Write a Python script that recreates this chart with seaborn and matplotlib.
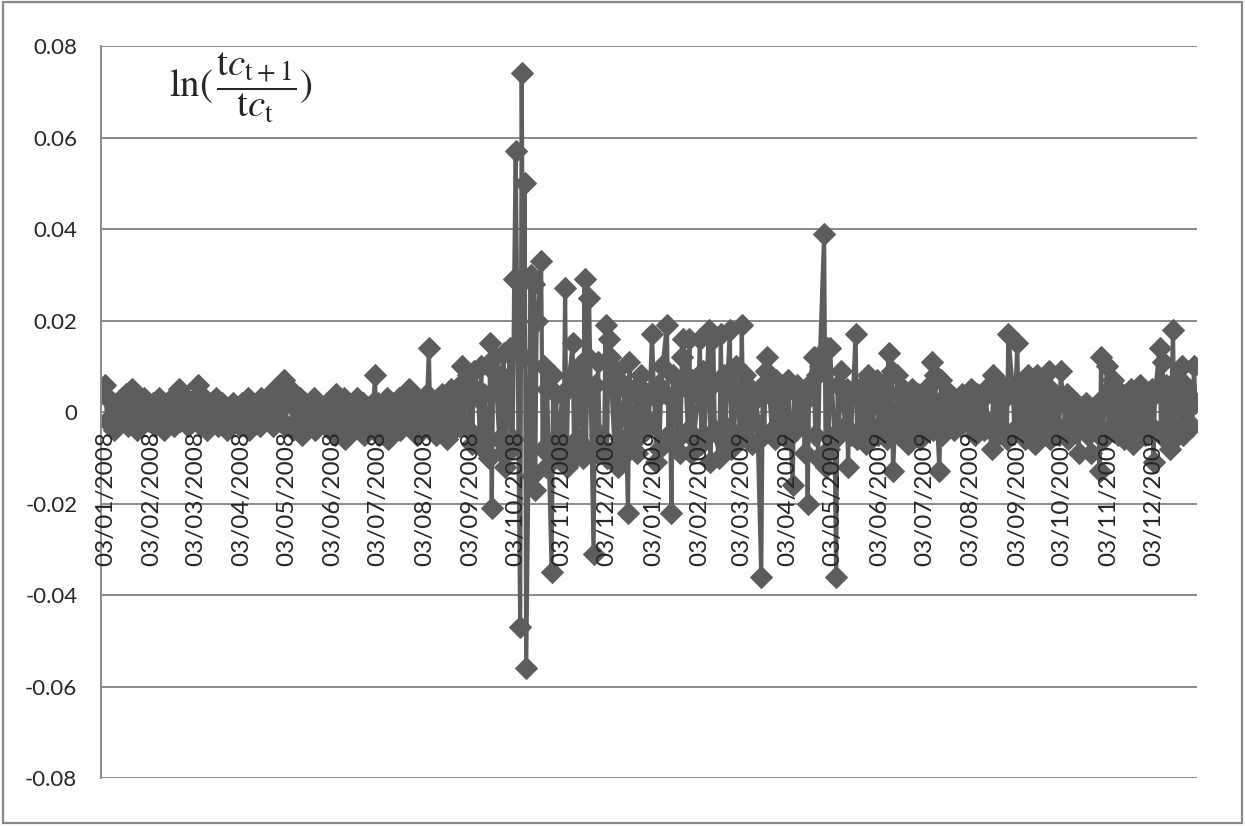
import matplotlib
matplotlib.use("Agg")
import matplotlib.pyplot as plt
import matplotlib.dates as mdates
from matplotlib.patches import Rectangle
import numpy as np
import pandas as pd
import seaborn as sns

# ln(tc_t+1 / tc_t) per trading day, in thousandths, one list per quarter
r08_q1 = [
    4, 6, -2, -1, 2, -4, 1, -3, 3, -2, 0, 4, -3, 5, -1, 2, -4, 1, -2, 3, -1, 0,
    -2, 2, -3, 1, -1, 3, -4, 0, 2, -2, 1, -3, 4, -1, 5, -2, 0, 3, -3, 1, 2,
    3, -2, 6, 4, -3, 1, -4, 2, -1, 0, 3, -3, 1, -2, 2, -4, 0, 1, -1, 2, -2,
]
r08_q2 = [
    1, -3, 2, -1, 3, -4, 0, 2, -2, 1, -3, 3, 0, -2, 2, -1, 4, -3, 5, 1, 6, -2,
    7, -3, 5, 2, -4, 1, -2, 3, -5, 0, 2, -3, 1, -1, 3, -4, 2, 0, -2, 1, -3, 2,
    -3, 2, -5, 4, 1, -2, 3, -6, 0, 2, -4, 1, -1, 3, -3, 2, -5, 0, 1, -2, 2,
]
r08_q3 = [
    8, -4, 2, -5, 1, -2, 3, -6, 0, 2, -3, 1, 3, -4, 2, -1, 0, 5, -3, 1, -5, 2, -2,
    2, -3, 4, 14, -4, 1, -5, 3, 0, -2, 4, -6, 2, -1, 5, -4, 3, -3, 6, 10, -2,
    8, -4, 6, -7, 9, 3, -5, 10, -8, 4, -10, 15, -21, 9, 12, -6, 8, -9, 13, -12, 14, -8,
]
r08_q4 = [
    -6, 29, 57, -47, 74, 12, 50, -56, 30, -14, 28, -17, 20, 33, -8, 10, -12, 5, -35, 8, -6, 4, -10,
    4, -8, 27, -12, 5, 15, -10, 8, -6, 10, -10, 29, -8, 12, 25, -31, 6, -9, 11, -5,
    -8, 19, -10, 16, 12, -8, 9, -12, 7, -6, 5, -9, -22, 11, -7, 4, -9, 6, -5, 8, -4, 3, -2,
]
r09_q1 = [
    17, -11, 6, -8, 4, 10, 19, -5, 3, -22, 8, -6, 5, -9, 12, 16, -4, 16, -9, 7, -6,
    4, 16, -7, 9, -5, 18, -11, 6, 16, -4, -10, 17, -6, 8, -3, 18, -8, 5, -5, 10,
    -6, 19, -4, 8, -3, 5, -7, 4, -2, 3, -36, 6, -5, 9, 12, -4, 3, -6, 7, -3, 5, -2,
]
r09_q2 = [
    4, -6, 7, -16, 5, -4, 6, -3, 2, -9, 4, -20, 6, 12, -5, 8, -10, 10, 39, -12, 14, -8,
    14, -6, -36, 6, -4, 9, -3, 5, -12, 4, -5, 17, -6, 5, -4, 3, -7, 8, -5, 6, -3,
    7, -5, 4, -3, 6, -6, 13, -4, 9, -13, 8, -5, 4, -3, 5, -7, 3, -4, 5, -2, 4, -6,
]
r09_q3 = [
    3, -5, 2, -3, 6, 11, -4, 8, -13, 7, -5, 3, -3, 4, -2, 3, -4, 2, -3, 4, -2, 3, -1,
    5, -3, 2, -5, 4, -2, 3, -4, 5, -2, -8, 8, -3, 4, -5, 6, -4, 3, -6, 17, 5,
    -4, 6, 15, -3, 5, -6, 4, 8, -3, 5, -7, 8, -4, 3, -5, 6, -2, 9, -6, 4, -3, 2,
]
r09_q4 = [
    -5, 9, -3, 4, -6, 3, -2, 2, -4, -9, 1, -3, 2, -5, -1, -9, 0, -4, 2, -13, 12, -6,
    10, -4, 5, -3, 7, -5, 3, -2, 4, -6, 2, -3, 5, -7, 3, -4, 6, -2, 3, -5, 4,
    -3, 5, -11, 4, 14, -5, 11, -3, 6, -8, 4, 18, -6, 7, -4, 10, -5, 6, -2, 3, -3, 10, 2,
]
quarters = [
    ("2008-01-02", r08_q1), ("2008-04-01", r08_q2), ("2008-07-01", r08_q3), ("2008-10-01", r08_q4),
    ("2009-01-02", r09_q1), ("2009-04-01", r09_q2), ("2009-07-01", r09_q3), ("2009-10-01", r09_q4),
]

y_ticks = [-0.08, -0.06, -0.04, -0.02, 0, 0.02, 0.04, 0.06, 0.08]
tick_dates = pd.date_range("2008-01-01", "2009-12-01", freq="MS") + pd.Timedelta(days=2)

frames = []
for start, vals in quarters:
    frames.append(pd.DataFrame({
        "date": pd.bdate_range(start, periods=len(vals)),
        "value": np.array(vals) / 1000.0,
    }))
df = pd.concat(frames, ignore_index=True)

sns.set_style("white")
plt.rcParams["font.family"] = ["Lato", "DejaVu Sans"]
plt.rcParams["mathtext.fontset"] = "stix"

grey = "#8a8a8a"
series = "#5d5d5d"

fig = plt.figure(figsize=(12.45, 8.26), dpi=100)
ax = fig.add_axes([0.0811, 0.0581, 0.8803, 0.8862])

for v in y_ticks:
    ax.axhline(v, color=grey, lw=1.4, zorder=0.5)

sns.lineplot(data=df, x="date", y="value", ax=ax, estimator=None,
             color=series, lw=3.0, marker="D", markersize=11,
             markeredgecolor=series, markerfacecolor=series, zorder=2)

ax.set_xlim(pd.Timestamp("2007-12-31"), pd.Timestamp("2010-01-01"))
ax.set_ylim(-0.08, 0.08)
ax.set_yticks(y_ticks)
ax.set_yticklabels([f"{v:g}" for v in y_ticks])
ax.set_xticks(tick_dates)
ax.xaxis.set_major_formatter(mdates.DateFormatter("%d/%m/%Y"))
ax.set_xlabel("")
ax.set_ylabel("")

for s in ("top", "right"):
    ax.spines[s].set_visible(False)
ax.spines["left"].set_color(grey)
ax.spines["left"].set_linewidth(1.4)
ax.spines["bottom"].set_position(("data", 0))
ax.spines["bottom"].set_visible(False)

ax.tick_params(axis="x", length=0, pad=14, labelsize=17.5, labelrotation=90)
ax.tick_params(axis="y", length=5, width=1.4, color=grey, labelsize=16, pad=12)
ax.xaxis.set_zorder(4)

fig.text(0.1936, 0.8935,
         r"$\ln(\,\dfrac{\mathrm{t}c_{\mathrm{t+1}}}{\mathrm{t}c_{\mathrm{t}}})$",
         fontsize=28, ha="center", va="center")

fig.add_artist(Rectangle((0.0025, 0.004), 0.995, 0.993, transform=fig.transFigure,
                         fill=False, edgecolor=grey, lw=1.6))

fig.savefig("out.png", dpi=100)
plt.close(fig)
